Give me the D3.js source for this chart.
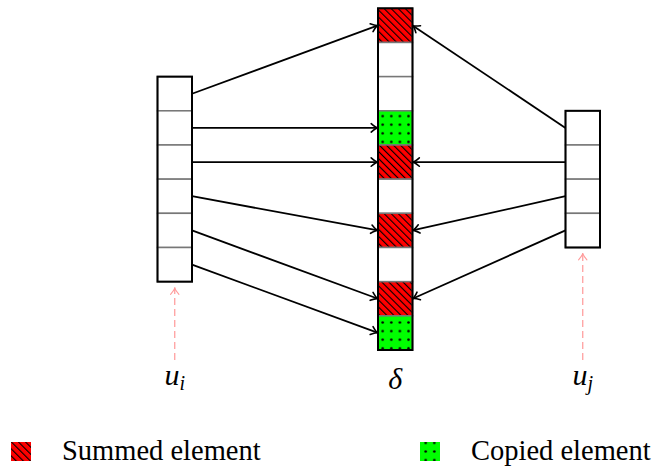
<!DOCTYPE html>
<html><head><meta charset="utf-8">
<script src="https://cdn.jsdelivr.net/npm/d3@7"></script>
<style>body{margin:0;background:#fff}svg{display:block}</style>
</head><body>
<svg id="c" width="654" height="466"></svg>
<script>
// ---- data ----
const deltaTypes = ["summed","empty","empty","copied","summed","empty","summed","empty","summed","copied"];
const uiRowOffset = 2, uiCount = 6;
const ujRowOffset = 3, ujCount = 4;
const uiLinks = [[0,0],[1,3],[2,4],[3,6],[4,8],[5,9]];   // [ui cell, delta cell]
const ujLinks = [[0,0],[1,4],[2,6],[3,8]];               // [uj cell, delta cell]
const legendItems = [["summed","Summed element"],["copied","Copied element"]];

const svg = d3.select("#c");
const y = d3.scaleLinear().domain([0, deltaTypes.length]).range([8.3, 350]);
const x = d3.scaleOrdinal().domain(["ui","delta","uj"]).range([157.5, 378, 565.5]);
const W = 34.5;

// patterns
const defs = svg.append("defs");
const hatch = defs.append("pattern").attr("id","hatch").attr("patternUnits","userSpaceOnUse")
  .attr("width",5).attr("height",5).attr("patternTransform","rotate(-45)");
hatch.append("rect").attr("width",5).attr("height",5).attr("fill","#ff0000");
hatch.append("line").attr("x1",0.5).attr("y1",0).attr("x2",0.5).attr("y2",5).attr("stroke","#000").attr("stroke-width",1.2);
const dots = defs.append("pattern").attr("id","dots").attr("patternUnits","userSpaceOnUse")
  .attr("width",8.6).attr("height",8.6).attr("x",0).attr("y",0);
dots.append("rect").attr("width",8.6).attr("height",8.6).attr("fill","#00ff00");
dots.append("circle").attr("cx",4.3).attr("cy",4.3).attr("r",1.3).attr("fill","#000");
const fillOf = t => t==="summed" ? "url(#hatch)" : t==="copied" ? "url(#dots)" : "#fff";

function arrow(g, x1, y1, x2, y2, color, dash, width) {
  g.append("line").attr("x1",x1).attr("y1",y1).attr("x2",x2).attr("y2",y2)
    .attr("stroke",color).attr("stroke-width",width).attr("stroke-dasharray",dash||null);
  const a = Math.atan2(y2-y1, x2-x1), L = 8, s = 0.55;
  const p = d3.path();
  p.moveTo(x2 - L*Math.cos(a - s), y2 - L*Math.sin(a - s));
  p.quadraticCurveTo(x2 - 2*Math.cos(a), y2 - 2*Math.sin(a), x2, y2);
  p.quadraticCurveTo(x2 - 2*Math.cos(a), y2 - 2*Math.sin(a), x2 - L*Math.cos(a + s), y2 - L*Math.sin(a + s));
  g.append("path").attr("d", p.toString()).attr("fill","none").attr("stroke",color).attr("stroke-width",width*0.9)
    .attr("stroke-linecap","round");
}

// vectors
function vector(key, offset, count, types) {
  const g = svg.append("g");
  const rows = d3.range(count);
  g.selectAll("rect.cell").data(rows).join("rect").attr("class","cell")
    .attr("x", x(key)).attr("y", i => y(offset+i)).attr("width", W).attr("height", i => y(offset+i+1)-y(offset+i))
    .attr("fill", i => types ? fillOf(types[i]) : "#fff").attr("stroke","#777").attr("stroke-width",1.5);
  g.append("rect").attr("x", x(key)).attr("y", y(offset)).attr("width", W).attr("height", y(offset+count)-y(offset))
    .attr("fill","none").attr("stroke","#000").attr("stroke-width",2);
}
vector("ui", uiRowOffset, uiCount);
vector("delta", 0, deltaTypes.length, deltaTypes);
vector("uj", ujRowOffset, ujCount);

const mid = i => (y(i) + y(i+1)) / 2;
const ag = svg.append("g");
uiLinks.forEach(([s,t]) => arrow(ag, x("ui")+W, mid(uiRowOffset+s), x("delta"), mid(t), "#000", null, 1.8));
ujLinks.forEach(([s,t]) => arrow(ag, x("uj"), mid(ujRowOffset+s), x("delta")+W, mid(t), "#000", null, 1.8));

// pink dashed arrows
arrow(ag, x("ui")+W/2, 360, x("ui")+W/2, 287.5, "#ff9999", "7,4", 1.2);
arrow(ag, x("uj")+W/2, 360, x("uj")+W/2, 253, "#ff9999", "7,4", 1.2);

// labels
const lab = svg.append("g").attr("font-family","'Liberation Serif','Times New Roman',serif").attr("font-style","italic");
function mathLabel(cx, base, main, sub) {
  const t = lab.append("text").attr("x", cx).attr("y", base).attr("text-anchor","middle").attr("font-size",30);
  t.append("tspan").text(main);
  if (sub) t.append("tspan").attr("font-size",20).attr("dy",5).text(sub);
}
mathLabel(x("ui")+W/2, 385, "u", "i");
mathLabel(x("delta")+W/2, 389, "δ");
mathLabel(x("uj")+W/2, 385, "u", "j");

// legend
const leg = svg.append("g");
const legX = d3.scaleOrdinal().domain(legendItems.map(d=>d[0])).range([11, 420]);
legendItems.forEach(([k, txt]) => {
  leg.append("rect").attr("x", legX(k)).attr("y", 442).attr("width", 20).attr("height", 19).attr("fill", fillOf(k));
  leg.append("text").attr("x", legX(k) + 51).attr("y", 460).attr("font-family","'Liberation Serif','Times New Roman',serif")
    .attr("font-size", 28.5).text(txt);
});
</script>
</body></html>
